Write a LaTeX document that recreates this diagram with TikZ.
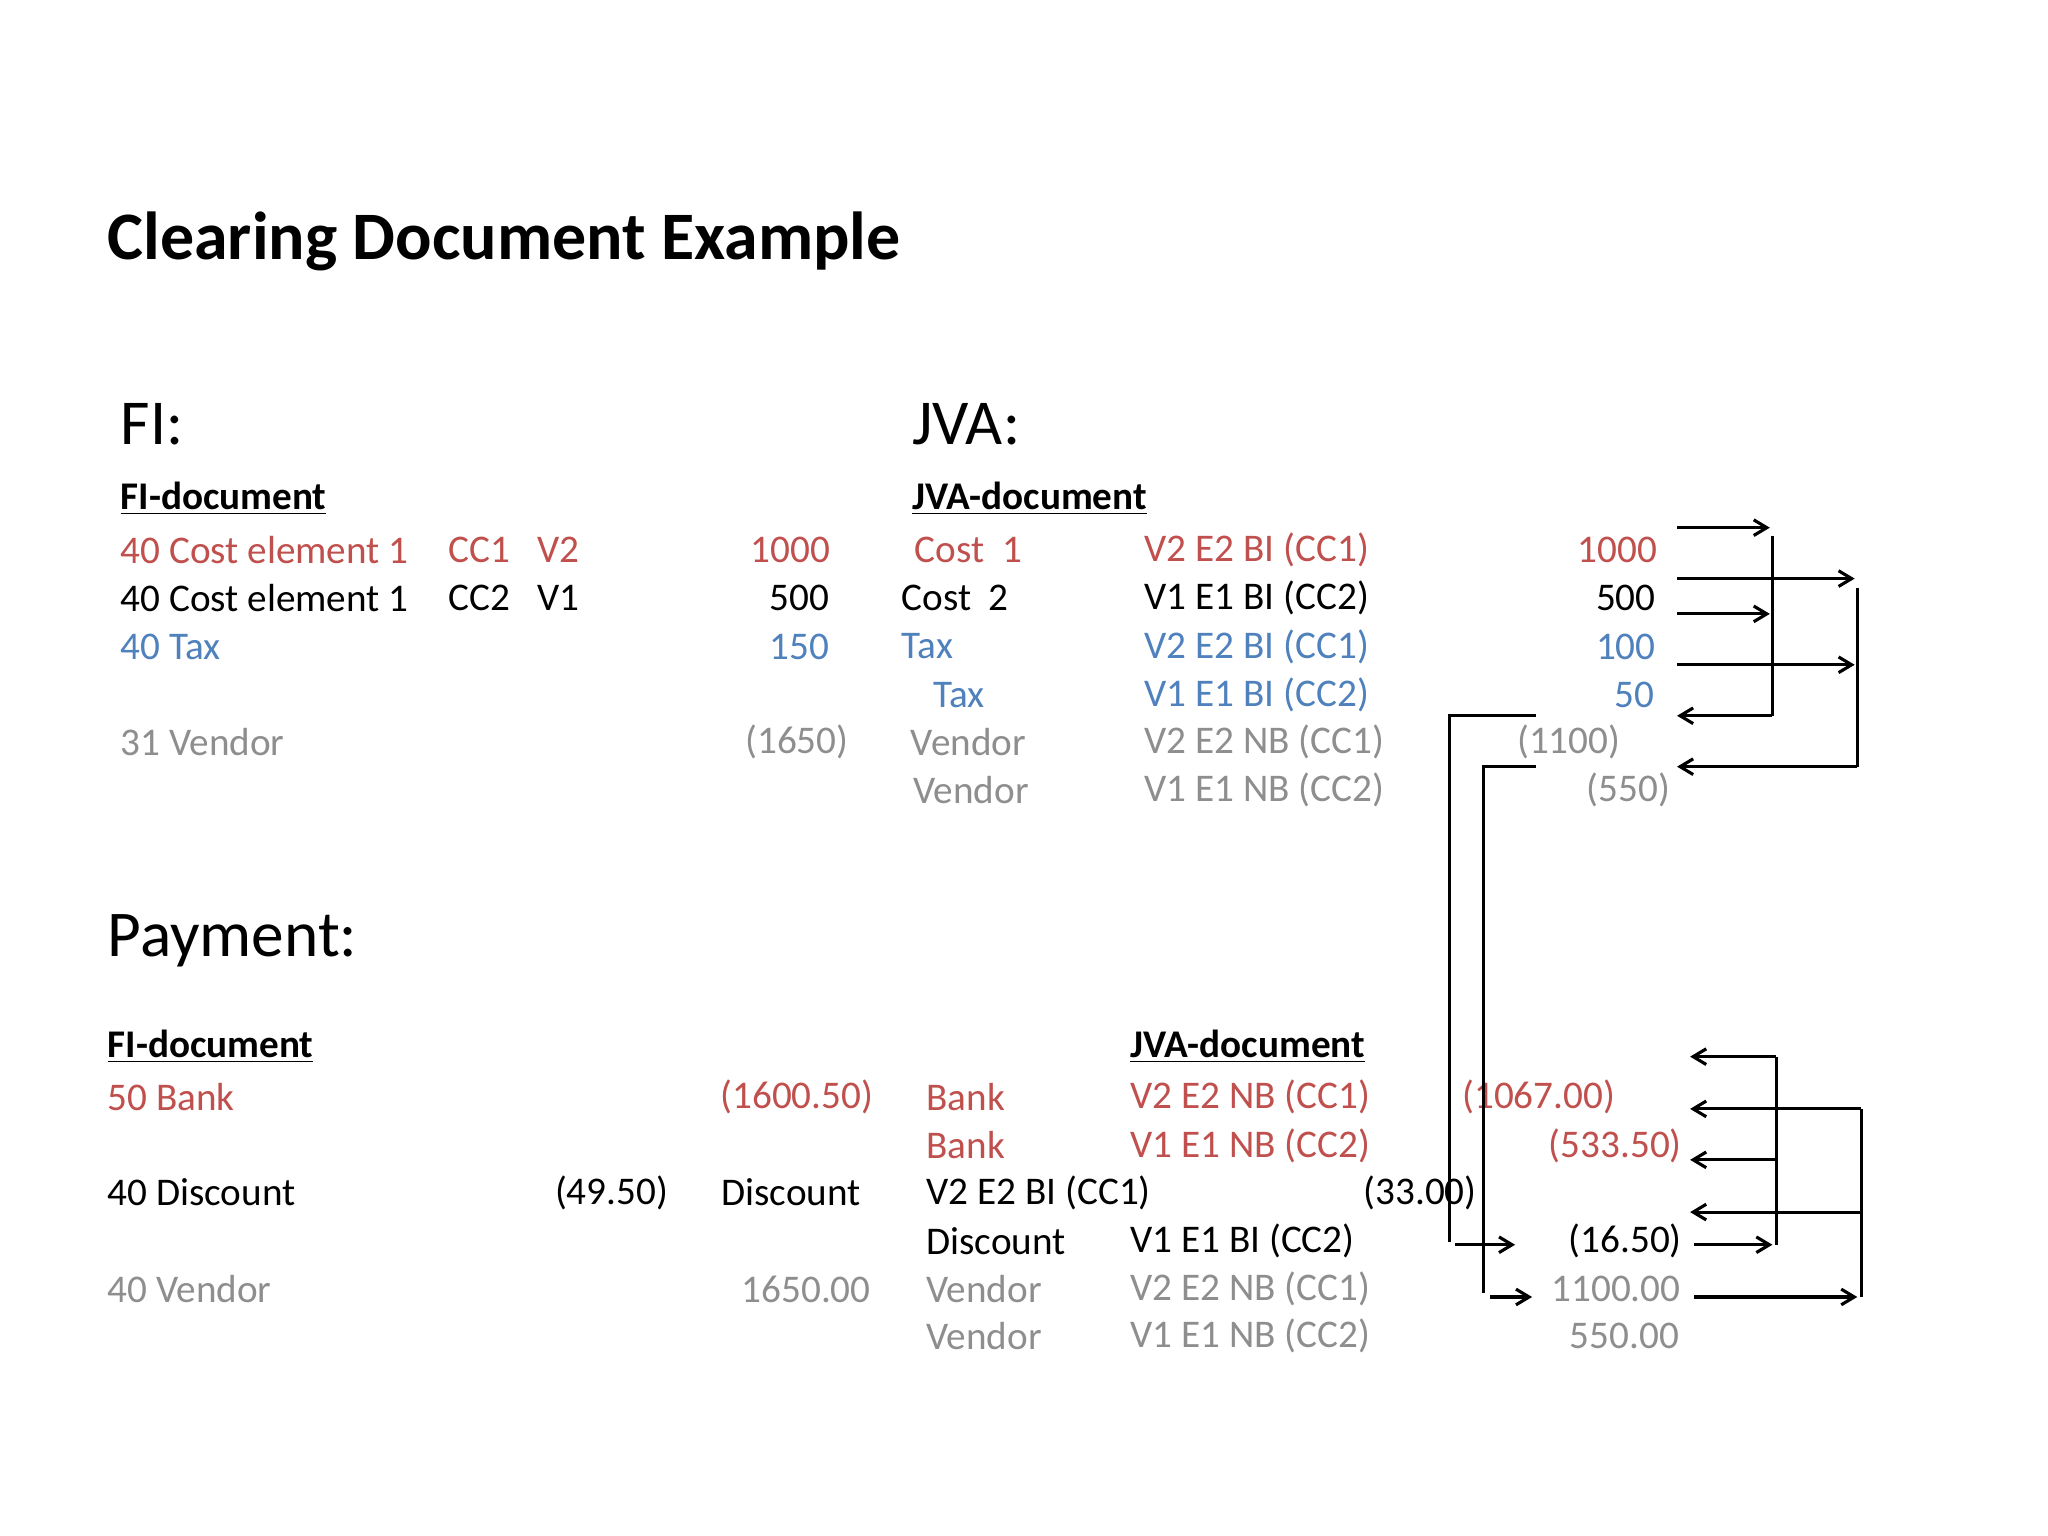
\documentclass[tikz,border=0pt]{standalone}
\usepackage{fontspec}
\setmainfont{Carlito}
\usetikzlibrary{arrows.meta}
\definecolor{cred}{HTML}{C0504D}
\definecolor{cblue}{HTML}{4F81BD}
\definecolor{cgrey}{HTML}{8E8E8E}
\tikzset{
 t/.style={anchor=west,inner sep=0pt,font=\fontsize{15}{18}\selectfont},
 r/.style={anchor=east,inner sep=0pt,font=\fontsize{15}{18}\selectfont},
 hd/.style={anchor=west,inner sep=0pt,font=\fontsize{15}{18}\selectfont\bfseries},
 big/.style={anchor=west,inner sep=0pt,font=\fontsize{24.5}{29}\selectfont},
 ar/.style={draw=black,line width=1.2pt,-{Straight Barb[length=5pt,width=6pt]}},
 ln/.style={draw=black,line width=1.2pt},
}
\begin{document}
\begin{tikzpicture}[x=0.5pt,y=-0.5pt]
\useasboundingbox (0,0) rectangle (1568,1176);
\fill[white] (0,0) rectangle (1568,1176);
\node[anchor=west,inner sep=0pt,font=\fontsize{26}{30}\selectfont\bfseries] (title) at (82,185) {Clearing Document Example};
\node[big] (fi) at (92,325) {FI:};
\node[big] (jva) at (698,325) {JVA:};
\node[anchor=west,inner sep=0pt,font=\fontsize{25}{30}\selectfont] (pay) at (82,720) {Payment:};
\node[hd] (fid) at (92,382) {\underline{FI-document}};
\node[hd] (jvad) at (698,382) {\underline{JVA-document}};
\node[t,cred] (a1) at (92,421) {40 Cost element 1};
\node[t,cred] (a2) at (343,421) {CC1};
\node[t,cred] (a3) at (411,421) {V2};
\node[r,cred] (a4) at (636,421) {1000};
\node[t,cred] (a5) at (700,421) {Cost\ \ 1};
\node[t,cred] (a6) at (876,421) {V2 E2 BI (CC1)};
\node[r,cred] (a7) at (1269,421) {1000};
\node[t] (b1) at (92,458) {40 Cost element 1};
\node[t] (b2) at (343,458) {CC2};
\node[t] (b3) at (411,458) {V1};
\node[r] (b4) at (635,458) {500};
\node[t] (b5) at (690,458) {Cost\ \ 2};
\node[t] (b6) at (876,458) {V1 E1 BI (CC2)};
\node[r] (b7) at (1268,458) {500};
\node[t,cblue] (c1) at (92,495) {40 Tax};
\node[r,cblue] (c4) at (635,495) {150};
\node[t,cblue] (c5) at (690,495) {Tax};
\node[t,cblue] (c6) at (876,495) {V2 E2 BI (CC1)};
\node[r,cblue] (c7) at (1268,495) {100};
\node[t,cblue] (d5) at (714,532) {Tax};
\node[t,cblue] (d6) at (876,532) {V1 E1 BI (CC2)};
\node[r,cblue] (d7) at (1267,532) {50};
\node[t,cgrey] (e1) at (92,568) {31 Vendor};
\node[r,cgrey] (e4) at (650,568) {(1650)};
\node[t,cgrey] (e5) at (697,568) {Vendor};
\node[t,cgrey] (e6) at (876,568) {V2 E2 NB (CC1)};
\node[r,cgrey] (e7) at (1241,568) {(1100)};
\node[t,cgrey] (f5) at (699,605) {Vendor};
\node[t,cgrey] (f6) at (876,605) {V1 E1 NB (CC2)};
\node[r,cgrey] (f7) at (1279,605) {(550)};
\node[hd] (pfid) at (82,801) {\underline{FI-document}};
\node[hd] (pjvad) at (865,801) {\underline{JVA-document}};
\node[t,cred] (g1) at (82,840) {50 Bank};
\node[r,cred] (g4) at (669,840) {(1600.50)};
\node[t,cred] (g5) at (709,840) {Bank};
\node[t,cred] (g6) at (865,840) {V2 E2 NB (CC1)};
\node[r,cred] (g7) at (1237,840) {(1067.00)};
\node[t,cred] (h5) at (709,877) {Bank};
\node[t,cred] (h6) at (865,877) {V1 E1 NB (CC2)};
\node[r,cred] (h7) at (1288,877) {(533.50)};
\node[t] (i1) at (82,913) {40 Discount};
\node[r] (i3) at (512,913) {(49.50)};
\node[t] (i4) at (552,913) {Discount};
\node[t] (i5) at (709,913) {V2 E2 BI (CC1)};
\node[r] (i7) at (1131,913) {(33.00)};
\node[t] (j5) at (709,950) {Discount};
\node[t] (j6) at (865,950) {V1 E1 BI (CC2)};
\node[r] (j7) at (1288,950) {(16.50)};
\node[t,cgrey] (k1) at (82,987) {40 Vendor};
\node[r,cgrey] (k4) at (667,987) {1650.00};
\node[t,cgrey] (k5) at (709,987) {Vendor};
\node[t,cgrey] (k6) at (865,987) {V2 E2 NB (CC1)};
\node[r,cgrey] (k7) at (1287,987) {1100.00};
\node[t,cgrey] (l5) at (709,1023) {Vendor};
\node[t,cgrey] (l6) at (865,1023) {V1 E1 NB (CC2)};
\node[r,cgrey] (l7) at (1286,1023) {550.00};
% top connectors
\coordinate (p1) at (1284,404); \coordinate (q1) at (1355,404);
\coordinate (p2) at (1284,470); \coordinate (q2) at (1355,470);
\coordinate (v1t) at (1357,410); \coordinate (v1b) at (1357,548);
\coordinate (p3) at (1284,548);
\coordinate (p4) at (1284,443); \coordinate (q4) at (1420,443);
\coordinate (p5) at (1284,509); \coordinate (q5) at (1420,509);
\coordinate (v2t) at (1422,450); \coordinate (v2b) at (1422,587);
\coordinate (p6) at (1284,587);
\draw[ar] (p1) -- (q1);
\draw[ar] (p2) -- (q2);
\draw[ln] (v1t) -- (v1b);
\draw[ar] (v1b) -- (p3);
\draw[ar] (p4) -- (q4);
\draw[ar] (p5) -- (q5);
\draw[ln] (v2t) -- (v2b);
\draw[ar] (v2b) -- (p6);
% long brackets
\coordinate (s1) at (1176,548); \coordinate (s1c) at (1110,548); \coordinate (s1d) at (1110,951);
\coordinate (s1e) at (1114,953); \coordinate (s1f) at (1160,953);
\coordinate (s2) at (1176,587); \coordinate (s2c) at (1136,587); \coordinate (s2d) at (1136,990);
\coordinate (s2e) at (1141,993); \coordinate (s2f) at (1173,993);
\draw[ln] (s1) -- (s1c) -- (s1d);
\draw[ar] (s1e) -- (s1f);
\draw[ln] (s2) -- (s2c) -- (s2d);
\draw[ar] (s2e) -- (s2f);
% bottom connectors
\coordinate (u1) at (1360,809); \coordinate (w1) at (1294,809);
\coordinate (u2) at (1425,849); \coordinate (w2) at (1294,849);
\coordinate (u3) at (1360,888); \coordinate (w3) at (1294,888);
\coordinate (u4) at (1425,928); \coordinate (w4) at (1294,928);
\coordinate (x1) at (1297,953); \coordinate (y1) at (1357,953);
\coordinate (x2) at (1297,993); \coordinate (y2) at (1422,993);
\coordinate (u5) at (1360,953); \coordinate (u6) at (1425,993);
\draw[ar] (u1) -- (w1);
\draw[ar] (u2) -- (w2);
\draw[ar] (u3) -- (w3);
\draw[ar] (u4) -- (w4);
\draw[ar] (x1) -- (y1);
\draw[ar] (x2) -- (y2);
\draw[ln] (u1) -- (u5);
\draw[ln] (u2) -- (u6);
\end{tikzpicture}
\end{document}
